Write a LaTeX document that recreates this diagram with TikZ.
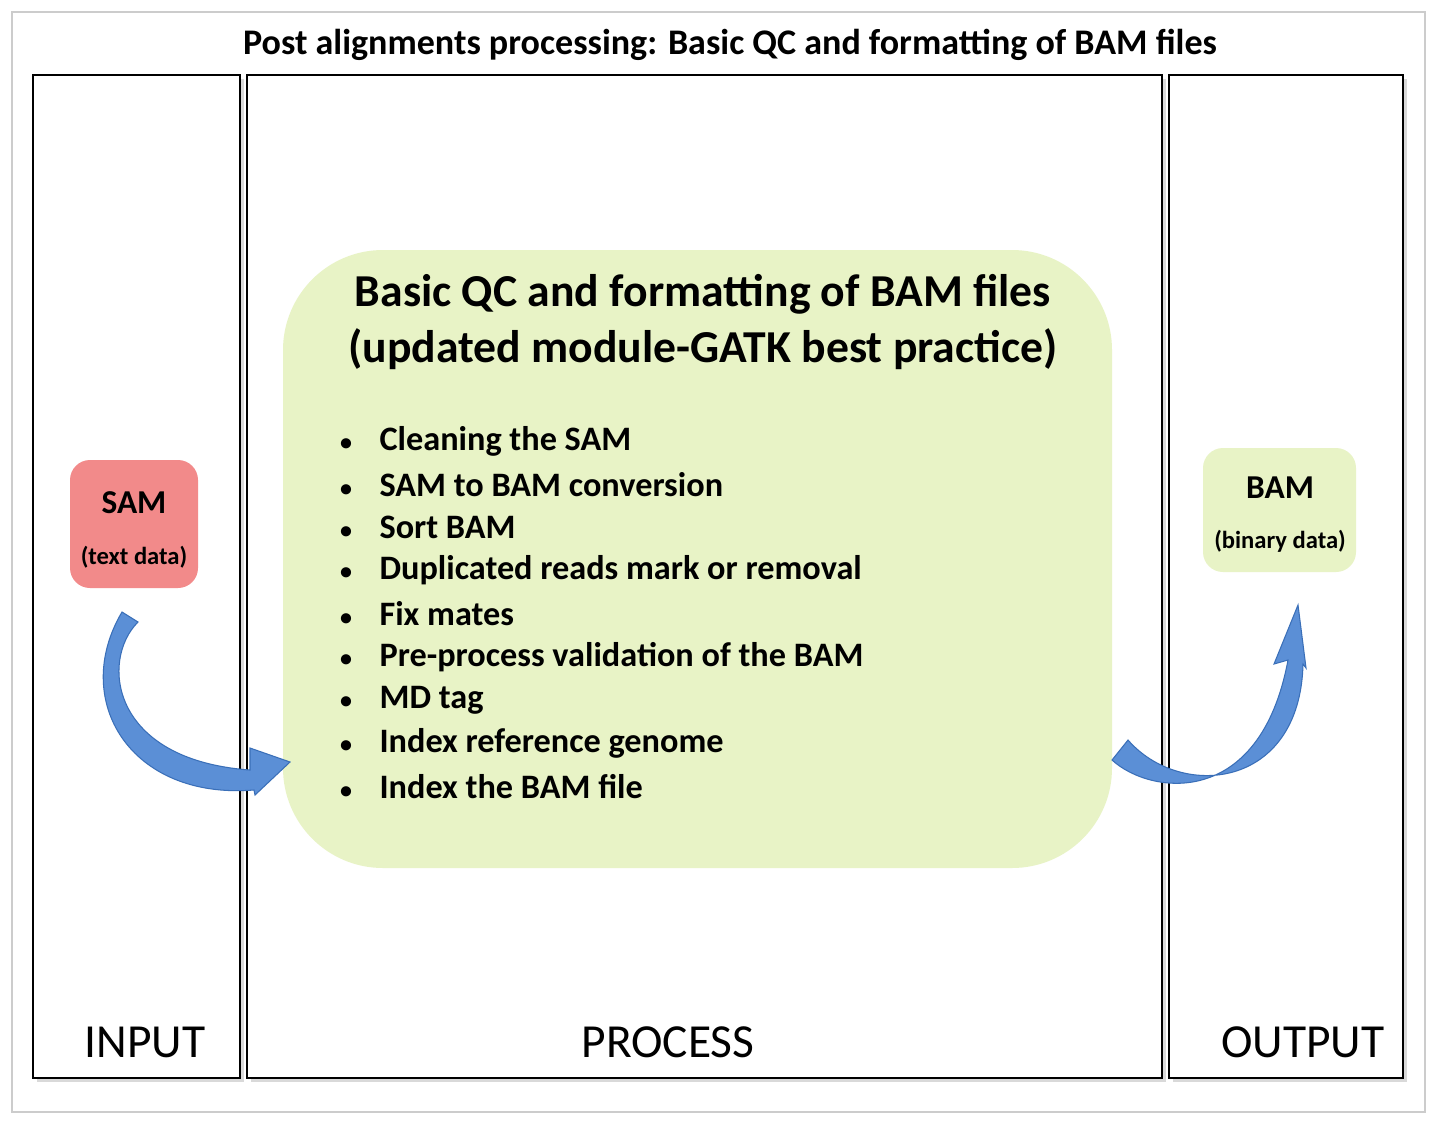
\documentclass[tikz,border=0pt]{standalone}
\usepackage{fontspec}
\setmainfont{Carlito}
\usetikzlibrary{shadows}
\definecolor{gbox}{HTML}{E8F3C6}
\definecolor{rbox}{HTML}{F28A8A}
\definecolor{arrb}{HTML}{5B8FD6}
\definecolor{arrd}{HTML}{3A6FB8}
\begin{document}
\begin{tikzpicture}[x=0.02cm,y=-0.02cm,
  col/.style={draw=black,line width=1.2pt,drop shadow={shadow xshift=2pt,shadow yshift=-2pt,opacity=0.3}},
  lab/.style={font=\fontsize{27}{32}\selectfont},
  bul/.style={font=\bfseries\fontsize{19.5}{23}\selectfont,anchor=west},
  arr/.style={fill=arrb,draw=arrd,line width=0.6pt}]
\useasboundingbox (0,0) rectangle (1442,1126);
\draw[gray!40,line width=0.8pt] (12,12) rectangle (1425,1112);
\node[font=\bfseries\fontsize{20.5}{24}\selectfont] (title) at (730,45) {Post alignments processing: Basic QC and formatting of BAM files};
\filldraw[col,fill=white] (33,75) rectangle (240,1078);
\filldraw[col,fill=white] (247,75) rectangle (1162,1078);
\filldraw[col,fill=white] (1169,75) rectangle (1403,1078);
\node[lab] (inp) at (145,1042) {INPUT};
\node[lab] (proc) at (668,1042) {PROCESS};
\node[lab] (outp) at (1303,1042) {OUTPUT};
\fill[gbox,rounded corners=100*0.02cm] (283,250) rectangle (1112,868);
\node[font=\bfseries\fontsize{26}{32}\selectfont,align=center] (gt) at (703,322) {Basic QC and formatting of BAM files\\(updated module-GATK best practice)};
\foreach \t [count=\i] in {Cleaning the SAM,SAM to BAM conversion,Sort BAM,Duplicated reads mark or removal,Fix mates,Pre-process validation of the BAM,MD tag,Index reference genome,Index the BAM file}{
  \node[bul] (b\i) at (334,441+43.2*\i-43.2) {\scalebox{0.7}{\textbullet}\hspace{0.8em}\t};
}
\fill[rbox,rounded corners=20*0.02cm] (70,460) rectangle (198,588);
\node[font=\bfseries\fontsize{19}{22}\selectfont] (sam) at (134,503) {SAM};
\node[font=\bfseries\fontsize{14}{16}\selectfont] (samt) at (134,557) {(text data)};
\fill[gbox,rounded corners=20*0.02cm] (1203,448) rectangle (1356,572);
\node[font=\bfseries\fontsize{19}{22}\selectfont] (bam) at (1280,488) {BAM};
\node[font=\bfseries\fontsize{14}{16}\selectfont] (bamt) at (1280,541) {(binary data)};
% left arrow
\filldraw[arr] (138,622) .. controls (100,660) and (110,760) .. (250,770)
  -- (250,748) -- (290,762) -- (255,795) -- (254,790)
  .. controls (130,800) and (70,700) .. (122,612) -- cycle;
% right arrow
\filldraw[arr] (1112,760) .. controls (1150,795) and (1260,810) .. (1288,660)
  -- (1274,664) -- (1298,605) -- (1306,668) -- (1303,664)
  .. controls (1300,790) and (1180,800) .. (1128,740) -- cycle;
\end{tikzpicture}
\end{document}
